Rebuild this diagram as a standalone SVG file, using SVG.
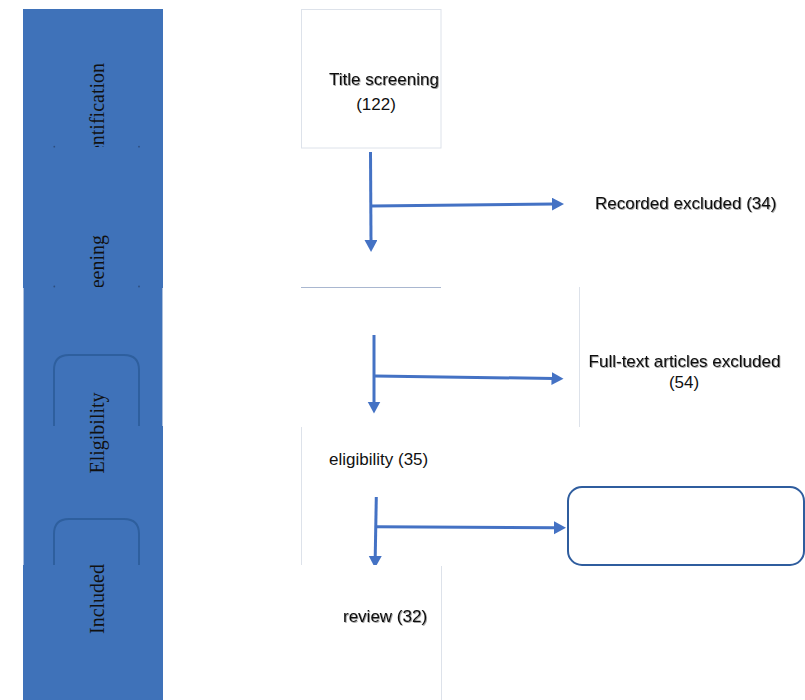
<svg xmlns="http://www.w3.org/2000/svg" width="805" height="700" viewBox="0 0 805 700">
<style>
.side{font-family:"Liberation Serif","Times New Roman",serif;font-size:20px;fill:#111}
.lbl{font-family:"Liberation Sans",Arial,sans-serif;font-size:17px;fill:#111}
.sh{filter:url(#shadow)}
.conn{stroke:#4472C4;stroke-width:3;fill:none;marker-end:url(#ah)}
.arch{stroke:#2E5F9E;stroke-width:2;fill:none}
.edge{stroke:#DDE2EA;stroke-width:1;fill:none}
</style>
<defs>
<marker id="ah" markerUnits="userSpaceOnUse" markerWidth="14" markerHeight="14" refX="2" refY="6.5" orient="auto">
<path d="M0,0 L12,6.5 L0,13 Z" fill="#4472C4"/>
</marker>
<filter id="shadow" x="-10%" y="-30%" width="120%" height="160%">
<feDropShadow dx="0.8" dy="0.8" stdDeviation="0.7" flood-color="#000" flood-opacity="0.45"/>
</filter>
<clipPath id="clipId"><rect x="23" y="9" width="140" height="138"/></clipPath>
<clipPath id="clipSc"><rect x="23" y="147" width="140" height="140"/></clipPath>
</defs>

<g id="sidebar">
<rect x="23" y="9" width="140" height="691" fill="#3F72B9"/>
<line x1="23.5" y1="288" x2="23.5" y2="565" stroke="#A9BEDD" stroke-width="1"/>
<line x1="162.5" y1="288" x2="162.5" y2="426" stroke="#A9BEDD" stroke-width="1"/>
<path class="arch" d="M54,426 V370 Q54,355 69,355 H124 Q139,355 139,370 V426"/>
<path class="arch" d="M54,565 V534 Q54,519 69,519 H124 Q139,519 139,534 V565"/>
<circle cx="54.3" cy="146.7" r="0.9" fill="#2E4F80"/>
<circle cx="139" cy="146.7" r="0.9" fill="#2E4F80"/>
<circle cx="54.3" cy="286.5" r="0.9" fill="#2E4F80"/>
<circle cx="139" cy="286.5" r="0.9" fill="#2E4F80"/>
<g clip-path="url(#clipId)"><text class="side" text-anchor="end" transform="translate(104,63) rotate(-90)">Identification</text></g>
<g clip-path="url(#clipSc)"><text class="side" text-anchor="end" transform="translate(104,235) rotate(-90)">Screening</text></g>
<text class="side" text-anchor="middle" transform="translate(104,433) rotate(-90)">Eligibility</text>
<text class="side" text-anchor="middle" transform="translate(104,599) rotate(-90)">Included</text>
</g>

<g id="connectors">
<path class="conn" d="M370.5,152 L371,242"/>
<path class="conn" d="M372,206 L554,204.1"/>
<path class="conn" d="M374,335 L374,403.5"/>
<path class="conn" d="M375,376 L553.5,378.5"/>
<path class="conn" d="M376.3,497 L375.2,558"/>
<path class="conn" d="M377,526.7 L556,527.7"/>
</g>

<g id="title-screening">
<rect x="301.5" y="9.5" width="139.5" height="138.5" fill="#fff" stroke="#DDE2EA" stroke-width="1"/>
<text class="lbl sh" x="329" y="85">Title screening</text>
<text class="lbl" x="376" y="110" text-anchor="middle">(122)</text>
</g>

<g id="screened-box">
<line x1="301" y1="287.5" x2="441" y2="287.5" stroke="#A9B7D0" stroke-width="1"/>
</g>

<g id="recorded-excluded">
<text class="lbl sh" x="595" y="209">Recorded excluded (34)</text>
</g>

<g id="fulltext-excluded">
<line class="edge" x1="579.5" y1="287" x2="579.5" y2="427"/>
<text class="lbl sh" x="684.5" y="367" text-anchor="middle">Full-text articles excluded</text>
<text class="lbl" x="684" y="388" text-anchor="middle">(54)</text>
</g>

<g id="eligibility">
<line class="edge" x1="301.5" y1="427" x2="301.5" y2="565"/>
<text class="lbl" x="329" y="464.5">eligibility (35)</text>
</g>

<g id="empty-box">
<rect x="568" y="487" width="236" height="78" rx="14" ry="14" fill="#fff" stroke="#2F5D9E" stroke-width="2"/>
</g>

<g id="review">
<rect x="301" y="565" width="141" height="135" fill="#fff"/>
<line class="edge" x1="441.5" y1="566" x2="441.5" y2="700"/>
<text class="lbl sh" x="343" y="621.5">review (32)</text>
</g>
</svg>
